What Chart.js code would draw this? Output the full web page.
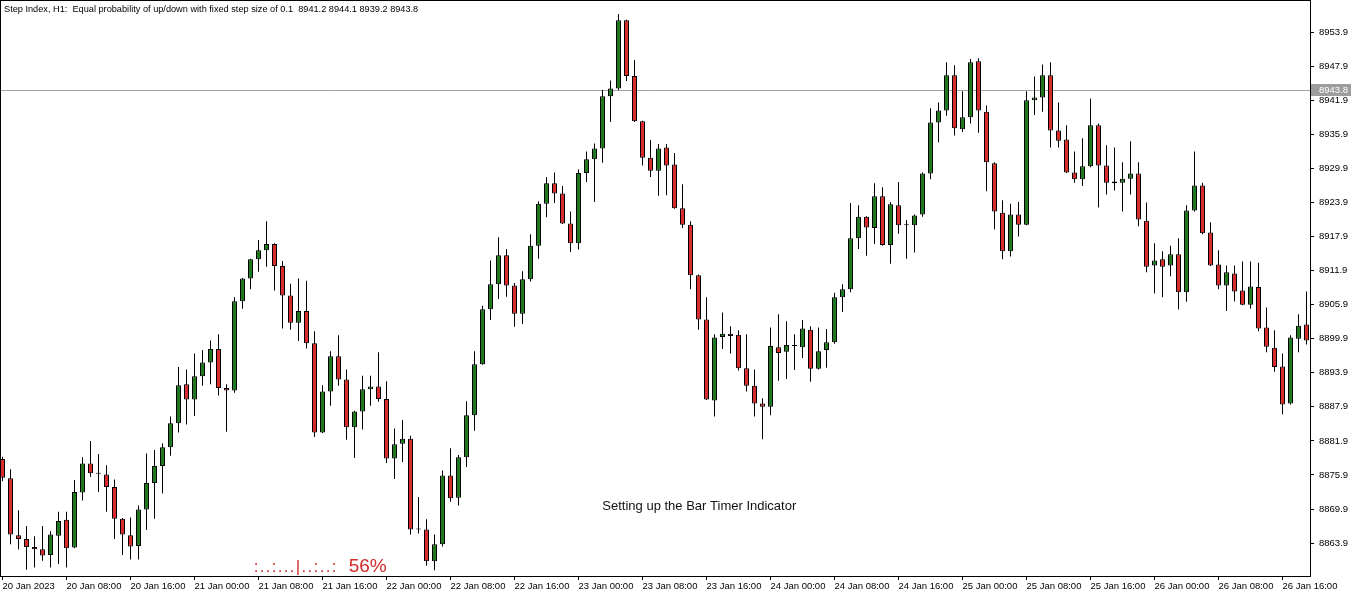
<!DOCTYPE html>
<html>
<head>
<meta charset="utf-8">
<script src="https://cdn.jsdelivr.net/npm/chart.js@4.4.1/dist/chart.umd.min.js"></script>
<style>
html, body { margin: 0; padding: 0; background: #fff; }
#wrap { width: 1362px; height: 597px; }
</style>
</head>
<body>
<div id="wrap"><canvas id="chart" width="1362" height="597"></canvas></div>
<script>
// H1 candles, 20 Jan 2023 00:00 -> 26 Jan 19:00
const opens = [
	8878.7, 8875.3, 8865.3, 8864.6, 8863.2, 8862.8, 8861.8, 8865.2, 8868.0, 8863.1,
	8872.8, 8877.9, 8876.2, 8876.0, 8873.8, 8868.2, 8865.3, 8863.4, 8869.8, 8874.5,
	8877.5, 8880.8, 8885.0, 8891.9, 8889.2, 8893.3, 8895.7, 8898.1, 8891.2, 8890.8,
	8906.5, 8910.5, 8913.9, 8915.5, 8916.6, 8912.7, 8907.5, 8902.7, 8904.8, 8899.1,
	8883.4, 8890.6, 8896.8, 8892.7, 8884.3, 8887.1, 8891.0, 8891.5, 8889.3, 8878.8,
	8881.4, 8882.3, 8866.3, 8866.3, 8860.7, 8863.7, 8875.8, 8871.9, 8879.0, 8886.4,
	8895.4, 8905.1, 8909.5, 8914.6, 8909.3, 8904.3, 8910.4, 8916.3, 8923.7, 8927.3,
	8925.5, 8920.2, 8916.7, 8929.1, 8931.5, 8933.4, 8942.6, 8944.0, 8956.0, 8946.2,
	8938.2, 8931.8, 8929.5, 8933.6, 8930.6, 8922.9, 8920.0, 8911.1, 8903.3, 8889.0,
	8900.2, 8900.8, 8900.6, 8894.7, 8891.6, 8888.5, 8887.9, 8898.4, 8897.6, 8898.6,
	8898.4, 8901.5, 8894.6, 8897.9, 8899.3, 8907.2, 8908.6, 8917.6, 8921.4, 8919.4,
	8925.0, 8916.4, 8923.4, 8919.9, 8919.9, 8921.8, 8929.0, 8938.0, 8940.1, 8946.3,
	8936.8, 8938.9, 8948.8, 8939.9, 8930.8, 8922.1, 8915.3, 8921.8, 8920.0, 8941.9,
	8942.4, 8946.3, 8936.6, 8935.0, 8929.2, 8928.0, 8930.3, 8937.5, 8930.4, 8927.6,
	8927.4, 8928.1, 8929.0, 8920.7, 8912.8, 8913.9, 8912.8, 8914.8, 8908.1, 8922.5,
	8926.9, 8918.6, 8913.0, 8909.3, 8911.4, 8908.4, 8905.9, 8909.0, 8901.9, 8898.3,
	8895.0, 8888.5, 8899.9, 8902.4
];
const highs = [
	8879.1, 8876.9, 8869.7, 8866.9, 8865.1, 8866.9, 8866.0, 8869.4, 8869.4, 8875.0,
	8879.0, 8881.9, 8879.6, 8877.6, 8875.1, 8868.3, 8868.4, 8870.5, 8879.7, 8880.3,
	8881.5, 8886.2, 8894.9, 8894.5, 8897.3, 8897.9, 8899.6, 8900.7, 8891.9, 8907.2,
	8910.6, 8914.0, 8917.3, 8920.6, 8916.7, 8913.6, 8909.6, 8910.5, 8910.1, 8901.2,
	8891.7, 8897.7, 8900.5, 8894.5, 8887.2, 8893.4, 8893.4, 8897.5, 8892.4, 8884.1,
	8885.6, 8882.8, 8872.0, 8868.1, 8865.4, 8876.7, 8880.6, 8879.4, 8888.9, 8897.7,
	8905.7, 8913.7, 8917.8, 8915.7, 8909.7, 8911.8, 8918.3, 8924.1, 8928.4, 8929.2,
	8926.8, 8922.3, 8929.7, 8932.9, 8934.3, 8943.7, 8945.4, 8957.1, 8956.1, 8949.0,
	8938.3, 8934.9, 8934.2, 8934.2, 8932.6, 8927.1, 8920.6, 8911.2, 8907.2, 8900.7,
	8904.5, 8902.1, 8901.4, 8900.7, 8894.5, 8889.4, 8901.9, 8904.2, 8903.0, 8900.7,
	8903.2, 8902.1, 8901.9, 8901.6, 8908.0, 8909.5, 8923.8, 8923.4, 8921.5, 8927.3,
	8926.6, 8924.0, 8927.5, 8920.8, 8921.8, 8929.2, 8940.5, 8941.5, 8948.6, 8948.1,
	8943.5, 8949.2, 8949.3, 8941.0, 8931.0, 8924.3, 8923.7, 8924.0, 8943.5, 8946.1,
	8948.2, 8948.6, 8941.5, 8937.5, 8932.9, 8935.2, 8942.2, 8937.8, 8934.0, 8933.6,
	8931.0, 8934.7, 8931.0, 8923.9, 8916.7, 8915.3, 8916.3, 8917.6, 8923.4, 8932.9,
	8927.4, 8920.4, 8915.5, 8912.8, 8912.8, 8913.5, 8913.5, 8913.3, 8905.4, 8901.4,
	8897.3, 8900.5, 8904.2, 8908.2
];
const lows = [
	8874.8, 8863.7, 8862.8, 8859.2, 8859.6, 8860.8, 8859.6, 8860.2, 8859.6, 8863.0,
	8871.4, 8875.6, 8872.9, 8869.4, 8864.6, 8861.8, 8861.0, 8861.0, 8866.2, 8868.2,
	8872.7, 8879.3, 8883.4, 8884.8, 8886.3, 8891.6, 8891.9, 8889.9, 8883.5, 8890.4,
	8905.2, 8908.6, 8911.7, 8912.6, 8908.4, 8901.7, 8901.5, 8899.5, 8898.2, 8882.6,
	8883.3, 8888.1, 8891.6, 8882.1, 8878.9, 8883.9, 8888.1, 8888.8, 8878.0, 8875.2,
	8878.2, 8865.4, 8865.6, 8859.9, 8859.1, 8863.3, 8871.2, 8870.5, 8877.3, 8883.7,
	8895.3, 8903.2, 8906.9, 8907.3, 8902.0, 8902.5, 8910.0, 8914.0, 8921.3, 8923.8,
	8920.1, 8915.2, 8915.6, 8927.5, 8924.0, 8930.9, 8938.1, 8943.7, 8945.3, 8938.1,
	8930.4, 8928.4, 8925.1, 8925.2, 8922.8, 8919.4, 8908.6, 8901.5, 8889.1, 8886.2,
	8898.1, 8897.3, 8894.3, 8890.6, 8886.2, 8882.2, 8886.4, 8892.5, 8892.8, 8894.4,
	8896.5, 8892.3, 8894.5, 8894.8, 8899.0, 8904.6, 8908.1, 8915.7, 8914.5, 8916.6,
	8916.3, 8913.1, 8918.4, 8914.0, 8915.1, 8921.4, 8928.0, 8934.5, 8939.2, 8935.7,
	8936.3, 8937.8, 8936.2, 8925.9, 8919.2, 8913.9, 8914.4, 8917.9, 8919.9, 8939.3,
	8939.9, 8933.6, 8933.6, 8929.1, 8927.4, 8926.8, 8930.1, 8923.0, 8925.3, 8926.0,
	8922.3, 8925.3, 8919.7, 8911.6, 8907.9, 8907.2, 8910.9, 8905.1, 8906.4, 8922.3,
	8918.3, 8912.7, 8908.6, 8904.8, 8906.5, 8905.8, 8905.2, 8901.2, 8897.5, 8894.1,
	8886.6, 8888.3, 8897.5, 8898.9
];
const closes = [
	8875.4, 8865.4, 8864.6, 8863.2, 8862.8, 8861.7, 8865.4, 8867.8, 8863.0, 8872.9,
	8877.9, 8876.2, 8876.1, 8873.8, 8868.2, 8865.4, 8863.3, 8869.8, 8874.5, 8877.5,
	8880.8, 8885.0, 8891.7, 8889.2, 8893.3, 8895.7, 8898.1, 8891.2, 8890.8, 8906.5,
	8910.5, 8913.9, 8915.5, 8916.6, 8912.7, 8907.5, 8902.7, 8904.8, 8899.1, 8883.4,
	8890.6, 8896.8, 8892.7, 8884.3, 8887.1, 8891.0, 8891.5, 8889.3, 8878.8, 8881.3,
	8882.3, 8866.3, 8866.4, 8860.7, 8863.7, 8875.8, 8871.8, 8879.0, 8886.4, 8895.4,
	8905.1, 8909.5, 8914.6, 8909.3, 8904.3, 8910.4, 8916.3, 8923.7, 8927.3, 8925.5,
	8920.2, 8916.7, 8929.1, 8931.5, 8933.4, 8942.6, 8944.0, 8956.0, 8946.2, 8938.2,
	8931.8, 8929.5, 8933.4, 8930.4, 8922.9, 8920.0, 8911.1, 8903.3, 8889.2, 8900.1,
	8900.8, 8900.4, 8894.7, 8891.6, 8888.5, 8887.9, 8898.6, 8897.4, 8898.8, 8898.7,
	8901.7, 8894.6, 8897.7, 8899.3, 8907.2, 8908.6, 8917.6, 8921.4, 8919.5, 8925.0,
	8916.4, 8923.6, 8919.9, 8919.9, 8921.6, 8929.0, 8938.0, 8940.1, 8946.3, 8937.0,
	8938.9, 8948.6, 8940.1, 8931.0, 8922.3, 8915.3, 8921.8, 8920.0, 8941.9, 8942.4,
	8946.3, 8936.6, 8934.8, 8929.2, 8928.0, 8930.3, 8937.5, 8930.4, 8927.4, 8927.3,
	8928.1, 8929.0, 8920.9, 8912.6, 8913.7, 8912.6, 8914.8, 8908.1, 8922.5, 8926.9,
	8918.5, 8912.8, 8909.3, 8911.6, 8908.2, 8905.9, 8909.1, 8901.7, 8898.5, 8894.9,
	8888.3, 8900.1, 8902.2, 8899.6
];

const xTickIndex = [0, 8, 16, 24, 32, 40, 48, 56, 64, 72, 80, 88, 96, 104, 112, 120, 128, 136, 144, 152, 160];
const xTickLabels = [
	'20 Jan 2023', '20 Jan 08:00', '20 Jan 16:00', '21 Jan 00:00', '21 Jan 08:00', '21 Jan 16:00',
	'22 Jan 00:00', '22 Jan 08:00', '22 Jan 16:00', '23 Jan 00:00', '23 Jan 08:00', '23 Jan 16:00',
	'24 Jan 00:00', '24 Jan 08:00', '24 Jan 16:00', '25 Jan 00:00', '25 Jan 08:00', '25 Jan 16:00',
	'26 Jan 00:00', '26 Jan 08:00', '26 Jan 16:00'
];
const yTicks = [8863.9, 8869.9, 8875.9, 8881.9, 8887.9, 8893.9, 8899.9, 8905.9,
	8911.9, 8917.9, 8923.9, 8929.9, 8935.9, 8941.9, 8947.9, 8953.9];

const bidPrice = 8943.8;
const headerText = 'Step Index, H1:  Equal probability of up/down with fixed step size of 0.1  8941.2 8944.1 8939.2 8943.8';
const noteText = 'Setting up the Bar Timer Indicator';
const timerDots = ':..:...|..:..:';
const timerPct = '56%';

const bullColor = '#1f7a1f';
const bearColor = '#d82a2a';
const family = '"Liberation Sans", Arial, sans-serif';

const idx = opens.map((_, i) => i);

const overlay = {
	id: 'overlay',
	beforeDatasetsDraw(chart) {
		const {ctx, chartArea, scales} = chart;
		const y = Math.round(scales.y.getPixelForValue(bidPrice)) + 0.5;
		ctx.save();
		ctx.strokeStyle = '#a3a3a3';
		ctx.lineWidth = 1;
		ctx.beginPath();
		ctx.moveTo(chartArea.left, y);
		ctx.lineTo(chartArea.right, y);
		ctx.stroke();
		ctx.restore();
	},
	afterDraw(chart) {
		const {ctx, chartArea, scales} = chart;
		ctx.save();
		// frame
		ctx.strokeStyle = '#000';
		ctx.lineWidth = 1;
		ctx.strokeRect(chartArea.left - 0.5, chartArea.top - 0.5,
			chartArea.right - chartArea.left + 1, chartArea.bottom - chartArea.top + 1);

		// bid price tag
		const y = Math.round(scales.y.getPixelForValue(bidPrice));
		ctx.fillStyle = '#9d9d9d';
		ctx.fillRect(chartArea.right + 1, y - 6, 40, 12);
		ctx.fillStyle = '#fff';
		ctx.font = '9.5px ' + family;
		ctx.textBaseline = 'middle';
		ctx.textAlign = 'left';
		ctx.fillText(bidPrice.toFixed(1), chartArea.right + 9, y + 0.5);

		// header
		ctx.fillStyle = '#000';
		ctx.font = '9.2px ' + family;
		ctx.fillText(headerText, chartArea.left + 3, chartArea.top + 8);

		// text objects on the chart
		ctx.font = '13px ' + family;
		ctx.textAlign = 'center';
		ctx.fillStyle = '#111';
		ctx.fillText(noteText, scales.x.getPixelForValue(87.1), scales.y.getPixelForValue(8870.4));

		ctx.textAlign = 'left';
		ctx.fillStyle = '#d42a2a';
		const tx = scales.x.getPixelForValue(31.4);
		const ty = scales.y.getPixelForValue(8859.7);
		ctx.font = '17px ' + family;
		ctx.letterSpacing = '1.3px';
		ctx.fillText(timerDots, tx, ty);
		ctx.letterSpacing = '0px';
		ctx.font = '19px ' + family;
		ctx.fillText(timerPct, tx + 95, ty);
		ctx.restore();
	}
};

const ctx = document.getElementById('chart').getContext('2d');
new Chart(ctx, {
	type: 'bar',
	data: {
		datasets: [{
			label: 'wick',
			data: idx.map(i => ({x: i, y: [lows[i], highs[i]]})),
			backgroundColor: '#000',
			barThickness: 1,
			grouped: false,
			inflateAmount: 0,
			order: 2
		}, {
			label: 'body',
			data: idx.map(i => ({x: i, y: [opens[i], closes[i]]})),
			backgroundColor: idx.map(i => closes[i] >= opens[i] ? bullColor : bearColor),
			borderColor: '#000',
			borderWidth: 1,
			borderSkipped: false,
			barThickness: 5,
			minBarLength: 1,
			grouped: false,
			inflateAmount: 0,
			order: 1
		}]
	},
	options: {
		responsive: false,
		animation: false,
		layout: { padding: { top: 1, left: 1, right: 0, bottom: 0 } },
		plugins: {
			legend: { display: false },
			tooltip: { enabled: false }
		},
		scales: {
			x: {
				type: 'linear',
				min: -0.1875,
				max: 163.4375,
				offset: false,
				bounds: 'data',
				grid: { drawOnChartArea: false, drawTicks: true, tickLength: 4, color: '#000', offset: false },
				border: { display: false },
				ticks: {
					align: 'start',
					maxRotation: 0,
					autoSkip: false,
					color: '#000',
					padding: 1,
					font: { size: 9.5, family: family },
					callback: (v, i) => xTickLabels[i]
				},
				afterBuildTicks: s => { s.ticks = xTickIndex.map(v => ({value: v})); },
				afterFit: s => { s.height = 21; s.paddingLeft = 0; s.paddingRight = 0; }
			},
			y: {
				position: 'right',
				min: 8858.1,
				max: 8959.4,
				bounds: 'data',
				grid: { drawOnChartArea: false, drawTicks: true, tickLength: 4, color: '#000' },
				border: { display: false },
				ticks: {
					color: '#000',
					padding: 5,
					font: { size: 9.5, family: family },
					callback: v => v.toFixed(1)
				},
				afterBuildTicks: s => { s.ticks = yTicks.map(v => ({value: v})); },
				afterFit: s => { s.width = 52; s.paddingTop = 0; s.paddingBottom = 0; }
			}
		}
	},
	plugins: [overlay]
});
</script>
</body>
</html>
